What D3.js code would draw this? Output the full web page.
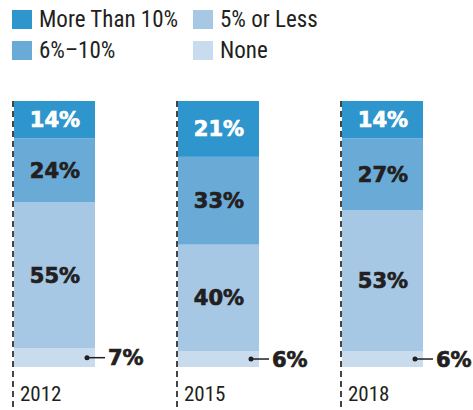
<!DOCTYPE html>
<html>
<head>
<meta charset="utf-8">
<script src="https://cdn.jsdelivr.net/npm/d3@7"></script>
<style>
  body { margin: 0; background: #fff; }
  .cond { font-family: "Liberation Sans Narrow", "Roboto", sans-serif; font-stretch: condensed; }
  .val { font-family: "DejaVu Sans", sans-serif; font-weight: bold; }
</style>
</head>
<body>
<svg id="chart"></svg>
<script>
'use strict'

const years = ['2012', '2015', '2018']
const keys = ['none', 'low', 'mid', 'high']
const legendLabels = ['More Than 10%', '5% or Less', '6%\u201310%', 'None']
const legendKeys = ['high', 'low', 'mid', 'none']
const moreThan10 = [14, 21, 14]
const sixToTen = [24, 33, 27]
const fiveOrLess = [55, 40, 53]
const none = [7, 6, 6]

const colors = {high: '#2e96cc', mid: '#6aaad6', low: '#a6c8e5', none: '#c9dcee'}
const textColors = {high: '#ffffff', mid: '#231f20', low: '#231f20'}

const rows = years.map((y, i) => ({year: y, high: moreThan10[i], mid: sixToTen[i], low: fiveOrLess[i], none: none[i]}))
const series = d3.stack().keys(keys)(rows)

const width = 473, height = 410
const svg = d3.select('#chart').attr('width', width).attr('height', height)

// scales
const x = d3.scaleBand().domain(years).range([13, 423]).paddingInner(0.5).paddingOuter(0)
const y = d3.scaleLinear().domain([0, 100]).range([367, 101])

// dashed line on the left of each bar
svg.append('g').selectAll('line')
  .data(years)
  .join('line')
    .attr('x1', d => x(d)).attr('x2', d => x(d))
    .attr('y1', y(100)).attr('y2', height)
    .attr('stroke', '#444').attr('stroke-width', 2)
    .attr('stroke-dasharray', '6,4')

// bars
const layer = svg.append('g').selectAll('g')
  .data(series)
  .join('g')
    .attr('fill', d => colors[d.key])
layer.selectAll('rect')
  .data(d => d)
  .join('rect')
    .attr('x', d => x(d.data.year) + 1)
    .attr('width', x.bandwidth() - 1)
    .attr('y', d => y(d[1]))
    .attr('height', d => y(d[0]) - y(d[1]))

// labels inside segments
series.filter(s => s.key !== 'none').forEach(s => {
  svg.append('g').selectAll('text')
    .data(s)
    .join('text')
      .attr('class', 'val')
      .attr('x', d => x(d.data.year) + x.bandwidth() / 2 + 1)
      .attr('y', d => (y(d[0]) + y(d[1])) / 2)
      .attr('dy', '0.36em')
      .attr('text-anchor', 'middle')
      .attr('font-size', 21)
      .attr('fill', textColors[s.key])
      .attr('stroke', textColors[s.key])
      .attr('stroke-width', 0.7)
      .text(d => d.data[s.key] + '%')
})

// "None" labels outside with a leader
const noneSeries = series.find(s => s.key === 'none')
const lead = svg.append('g').selectAll('g')
  .data(noneSeries)
  .join('g')
    .attr('transform', d => `translate(${x(d.data.year) + x.bandwidth() - 8},${(y(d[0]) + y(d[1])) / 2})`)
lead.append('circle').attr('r', 2.5).attr('fill', '#231f20')
lead.append('line').attr('x1', 0).attr('x2', 18).attr('stroke', '#231f20').attr('stroke-width', 1.5)
lead.append('text')
  .attr('class', 'val')
  .attr('x', 21)
  .attr('dy', '0.36em')
  .attr('font-size', 21)
  .attr('fill', '#231f20')
  .attr('stroke', '#231f20')
  .attr('stroke-width', 0.7)
  .text(d => d.data.none + '%')

// year labels
svg.append('g').selectAll('text')
  .data(years)
  .join('text')
    .attr('class', 'cond')
    .attr('x', d => x(d) + 7)
    .attr('y', 401)
    .attr('font-size', 21)
    .attr('fill', '#231f20')
    .text(d => d)

// legend
const legend = svg.append('g').selectAll('g')
  .data(legendKeys)
  .join('g')
    .attr('transform', (d, i) => `translate(${12 + (i % 2) * 181},${10 + Math.floor(i / 2) * 31})`)
legend.append('rect').attr('width', 20).attr('height', 19).attr('fill', d => colors[d])
legend.append('text')
  .attr('class', 'cond')
  .attr('x', 27)
  .attr('y', 17)
  .attr('font-size', 23)
  .attr('fill', '#231f20')
  .text((d, i) => legendLabels[i])
</script>
</body>
</html>
